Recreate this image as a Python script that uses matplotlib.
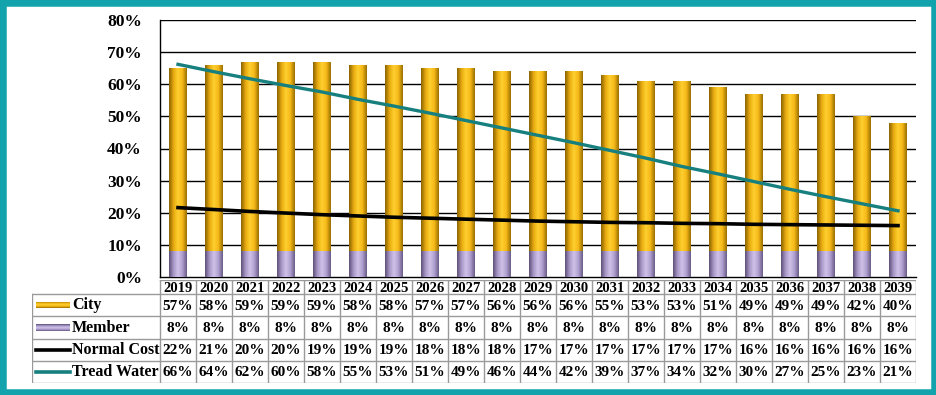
import numpy as np
import matplotlib
matplotlib.use("Agg")
import matplotlib.pyplot as plt
from matplotlib.patches import Rectangle
from matplotlib.colors import LinearSegmentedColormap

plt.rcParams['font.family'] = ['Liberation Serif', 'DejaVu Serif']
plt.rcParams['font.weight'] = 'bold'

years = list(range(2019, 2040))
# table values (rounded, as printed)
city = [57, 58, 59, 59, 59, 58, 58, 57, 57, 56, 56, 56, 55, 53, 53, 51, 49, 49, 49, 42, 40]
member = [8] * 21
normal_cost = [22, 21, 20, 20, 19, 19, 19, 18, 18, 18, 17, 17, 17, 17, 17, 17, 16, 16, 16, 16, 16]
tread_water = [66, 64, 62, 60, 58, 55, 53, 51, 49, 46, 44, 42, 39, 37, 34, 32, 30, 27, 25, 23, 21]
# line positions (unrounded)
normal_cost_line = [21.6, 21.0, 20.4, 19.9, 19.4, 19.0, 18.6, 18.3, 18.0, 17.7, 17.4,
                    17.2, 17.0, 16.9, 16.7, 16.6, 16.4, 16.3, 16.2, 16.1, 16.0]
tread_water_line = [66.2, 63.9, 61.7, 59.6, 57.6, 55.3, 53.2, 51.0, 48.7, 46.4, 44.1,
                    41.8, 39.4, 37.0, 34.4, 32.1, 29.7, 27.3, 25.0, 22.8, 20.6]
row_names = ['City', 'Member', 'Normal Cost', 'Tread Water']

W, H = 937, 395
fig = plt.figure(figsize=(W / 100, H / 100), dpi=100)

# teal frame
teal = '#13a3ad'
fig.patches.append(Rectangle((0, 0), 1, 1, transform=fig.transFigure, fill=False,
                             edgecolor=teal, linewidth=9, zorder=10))

gold_cm = LinearSegmentedColormap.from_list('gold', ['#8a6400', '#e6aa10', '#ffd030', '#f5b818', '#9a7000'])
lav_cm = LinearSegmentedColormap.from_list('lav', ['#5e5078', '#a898c8', '#cfc2e8', '#b0a0d0', '#6a5c88'])
grad = np.linspace(0, 1, 64).reshape(1, -1)

ax = fig.add_axes([160 / W, (H - 277) / H, 756 / W, 257 / H])
x = np.arange(len(years))
ax.set_yticks(range(0, 81, 10))
ax.set_yticklabels([f'{v}%' for v in range(0, 81, 10)], fontsize=12.5, fontweight='bold')
ax.set_xticks([])
ax.tick_params(axis='y', length=0, pad=13)
for v in range(10, 81, 10):
    ax.axhline(v, color='black', lw=1, zorder=1)
for s in ['top', 'right']:
    ax.spines[s].set_visible(False)
ax.spines['left'].set_linewidth(1)
ax.spines['bottom'].set_linewidth(1)

bw = 0.48
bars_m = ax.bar(x, member, bw, color='#a898c8', zorder=2)
bars_c = ax.bar(x, city, bw, bottom=member, color='#f0b418', zorder=2)
for bars, cm in [(bars_m, lav_cm), (bars_c, gold_cm)]:
    for b in bars:
        x0, y0 = b.get_x(), b.get_y()
        im = ax.imshow(grad, cmap=cm, aspect='auto', zorder=3,
                       extent=(x0, x0 + b.get_width(), y0, y0 + b.get_height()))
        im.set_clip_path(b)
ax.set_xlim(-0.5, len(years) - 0.5)
ax.set_ylim(0, 80)

ax.plot(x, normal_cost_line, color='black', lw=2.6, zorder=5)
ax.plot(x, tread_water_line, color='#17807f', lw=2.4, zorder=5)

# data table below
colw = 756 / len(years)
tab = fig.add_axes([32 / W, (H - 383) / H, (916 - 32) / W, (383 - 280) / H])
left = -0.5 - 128 / colw
tab.axis('off')
rows_y = [280, 294, 316, 339, 361, 383]
gc = '#9a9a9a'


def px(p):
    return (p - 160) / colw - 0.5


# horizontal rules
tab.plot([-0.5, len(years) - 0.5], [rows_y[0]] * 2, color=gc, lw=1)
for yy in rows_y[1:]:
    tab.plot([left, len(years) - 0.5], [yy] * 2, color=gc, lw=1)
# vertical rules
tab.plot([left, left], [rows_y[1], rows_y[-1]], color=gc, lw=1)
for i in range(len(years) + 1):
    tab.plot([i - 0.5] * 2, [rows_y[0], rows_y[-1]], color=gc, lw=1)

for i, yr in enumerate(years):
    tab.text(i, (rows_y[0] + rows_y[1]) / 2 + 1, str(yr), ha='center', va='center',
             fontsize=10.5, fontweight='bold')

values = [city, member, normal_cost, tread_water]
for r, (name, vals) in enumerate(zip(row_names, values)):
    yc = (rows_y[r + 1] + rows_y[r + 2]) / 2
    for i, v in enumerate(vals):
        tab.text(i, yc + 1, f'{v}%', ha='center', va='center', fontsize=11, fontweight='bold')
    tab.text(px(72), yc, name, ha='left', va='center', fontsize=11.5, fontweight='bold')

# legend keys
for r, cm in [(0, gold_cm), (1, lav_cm)]:
    yc = (rows_y[r + 1] + rows_y[r + 2]) / 2
    sw = Rectangle((px(36), yc - 3.5), px(70) - px(36), 7, facecolor='none', edgecolor='none')
    tab.add_patch(sw)
    im = tab.imshow(np.linspace(0, 1, 32).reshape(-1, 1), cmap=cm, aspect='auto',
                    extent=(px(36), px(70), yc + 3.5, yc - 3.5), zorder=3)
    im.set_clip_path(sw)
for r, col in [(2, 'black'), (3, '#17807f')]:
    yc = (rows_y[r + 1] + rows_y[r + 2]) / 2
    tab.plot([px(36), px(70)], [yc, yc], color=col, lw=2.6)
tab.set_xlim(left, len(years) - 0.5)
tab.set_ylim(383, 280)

fig.savefig('out.png', dpi=100)
